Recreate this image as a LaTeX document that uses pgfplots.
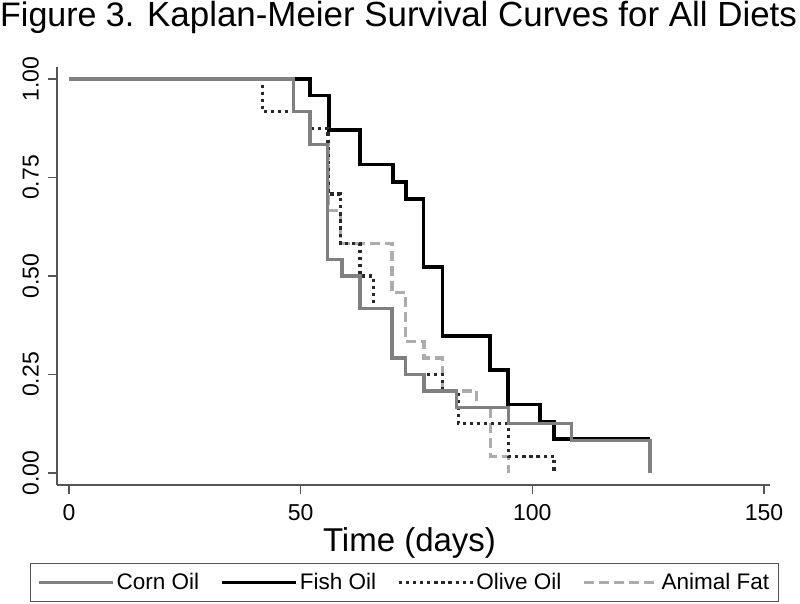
\documentclass[border=0pt]{standalone}
\usepackage{pgfplots}
\pgfplotsset{compat=1.18}
\usepackage{fontspec}
\setmainfont{Liberation Sans}

\definecolor{corngray}{RGB}{128,128,128}
\definecolor{fatgray}{RGB}{172,172,172}
\definecolor{olivegray}{RGB}{40,40,40}
\definecolor{axisgray}{RGB}{85,85,85}

\pgfplotsset{
  corn/.style={corngray, line width=3.3pt},
  fish/.style={black, line width=3.8pt},
  olive/.style={olivegray, line width=3.3pt, dash pattern=on 3.3pt off 3.8pt},
  animal/.style={fatgray, line width=3.3pt, dash pattern=on 10pt off 5pt},
}

\begin{document}
\begin{tikzpicture}
\path[use as bounding box] (0pt,0pt) rectangle (800pt,603pt);
\begin{axis}[
  at={(57pt,118pt)}, anchor=south west,
  scale only axis, width=713pt, height=418pt,
  xmin=-2.59, xmax=151.3, ymin=-0.0305, ymax=1.0305,
  axis x line=bottom, axis y line=left,
  axis line style={axisgray, line width=1.3pt, -},
  tick style={axisgray, line width=1.3pt},
  tick align=outside, major tick length=9pt,
  xtick={0,50,100,150}, ytick={0,0.25,0.5,0.75,1},
  /pgf/number format/assume math mode=true,
  tick label style={font=\fontsize{23}{27}\selectfont, inner sep=0pt},
  xticklabel shift=10pt,
  yticklabel shift=9pt,
  yticklabel style={rotate=90, anchor=south,
    /pgf/number format/.cd, fixed, fixed zerofill, precision=2},
  xlabel={Time (days)},
  xlabel style={at={(axis description cs:0.4944,-0.1596)}, anchor=base,
    font=\fontsize{33}{38}\selectfont, inner sep=0pt},
  legend columns=4,
  legend style={at={(axis description cs:0.487,-0.2333)}, anchor=center,
    draw=axisgray, line width=1.2pt, font=\fontsize{22.5}{26}\selectfont,
    inner xsep=7pt, inner ysep=8pt,
    nodes={inner xsep=2pt},
    /tikz/every even column/.append style={column sep=19pt}},
  legend image code/.code={\draw[#1] (0pt,0pt) -- (74pt,0pt);},
]
% Fish Oil
\addplot[fish, const plot, forget plot] coordinates {
(0,1) (52,0.958) (56.1,0.870) (62.8,0.783) (69.9,0.739) (72.7,0.696)
(76.5,0.522) (80.6,0.348) (90.9,0.261) (94.8,0.174) (101.7,0.130)
(104.6,0.087) (125.4,0.087)
};
% Animal Fat
\addplot[animal, const plot, forget plot] coordinates {
(0,1) (48.4,0.917) (52,0.833) (55.9,0.667) (58.6,0.583) (69.7,0.458)
(72.7,0.333) (76.6,0.292) (80.6,0.208) (88,0.167) (90.9,0.042) (94.8,0)
};
% Olive Oil
\addplot[olive, const plot, forget plot] coordinates {
(0,1) (41.7,0.917) (52,0.875) (55.9,0.708) (58.6,0.583) (62.8,0.5)
(65.7,0.417) (69.7,0.292) (72.7,0.25) (80.6,0.208) (84,0.125)
(94.8,0.042) (104.7,0)
};
% Corn Oil
\addplot[corn, const plot, forget plot] coordinates {
(0,1) (48.4,0.917) (52,0.833) (55.8,0.542) (58.9,0.5) (62.8,0.417)
(69.7,0.292) (72.7,0.25) (76.6,0.208) (83.7,0.167) (94.8,0.125)
(108.5,0.083) (125.4,0)
};
\addlegendimage{corn}
\addlegendentry{Corn Oil}
\addlegendimage{fish}
\addlegendentry{Fish Oil}
\addlegendimage{olive}
\addlegendentry{Olive Oil}
\addlegendimage{animal}
\addlegendentry{Animal Fat\hspace{34pt}}
\end{axis}
\node[anchor=base west, font=\fontsize{34}{40}\selectfont, inner sep=0pt]
  at (0pt,576pt) {Figure 3.};
\node[anchor=base west, font=\fontsize{34.9}{40}\selectfont, inner sep=0pt]
  at (147pt,576pt) {Kaplan-Meier Survival Curves for All Diets};
\end{tikzpicture}
\end{document}
